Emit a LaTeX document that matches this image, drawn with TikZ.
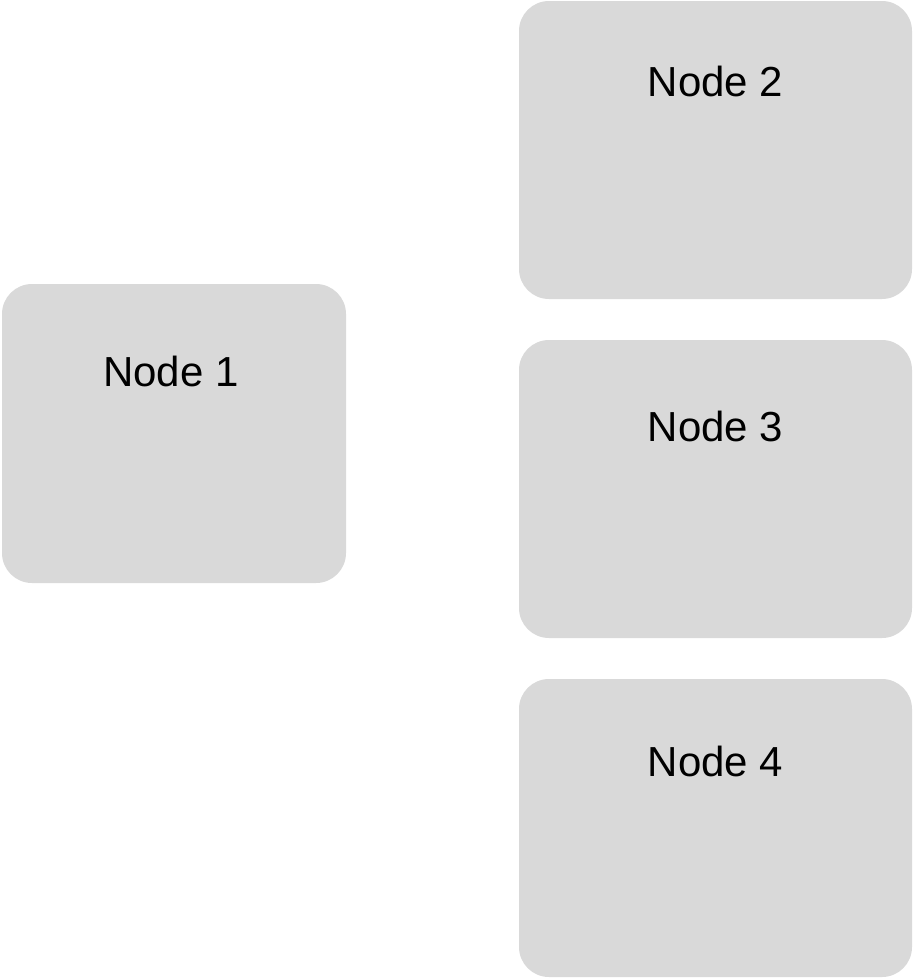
\documentclass[tikz,border=0pt]{standalone}
\usepackage{fontspec}
\setmainfont{Liberation Sans}
\definecolor{boxgray}{HTML}{D9D9D9}
\begin{document}
\begin{tikzpicture}[x=1pt,y=-1pt,
  box/.style={fill=boxgray,draw=none,rounded corners=30pt,inner sep=0pt,outer sep=0pt},
  lbl/.style={font=\fontsize{42}{50}\selectfont,anchor=base,inner sep=0pt,text=black}]
\useasboundingbox (0,0) rectangle (913,978);
\node[box,minimum width=344pt,minimum height=299pt,anchor=north west] (n1) at (2,284) {};
\node[box,minimum width=393pt,minimum height=298pt,anchor=north west] (n2) at (519,1) {};
\node[box,minimum width=393pt,minimum height=298pt,anchor=north west] (n3) at (519,340) {};
\node[box,minimum width=393pt,minimum height=298pt,anchor=north west] (n4) at (519,679) {};
\node[lbl] (t1) at (171,386) {Node 1};
\node[lbl] (t2) at (715.5,96) {Node 2};
\node[lbl] (t3) at (715.5,441) {Node 3};
\node[lbl] (t4) at (715.5,776) {Node 4};
\end{tikzpicture}
\end{document}
